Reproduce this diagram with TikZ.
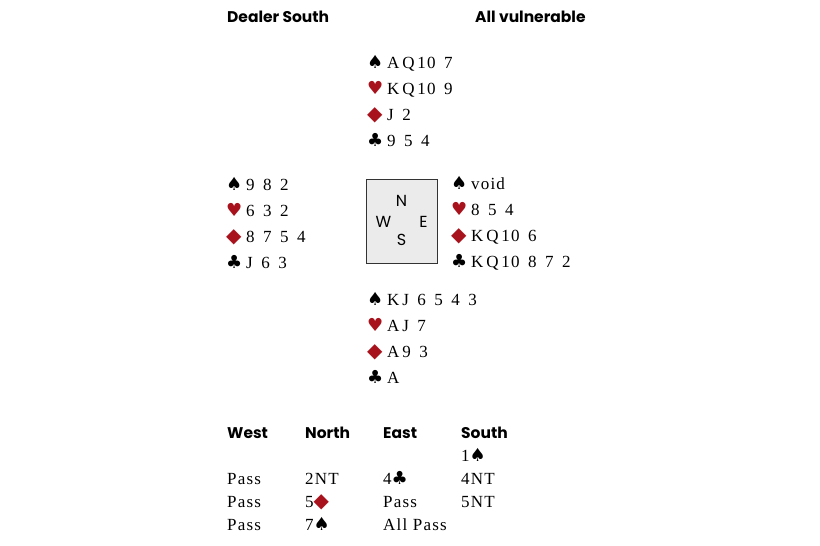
\documentclass[tikz,border=0pt]{standalone}
\usepackage{fontspec}
\setmainfont{Liberation Serif}[LetterSpace=7]
\newfontfamily\headfont{Poppins}
\newfontfamily\suitfont{DejaVu Sans}
\usetikzlibrary{positioning}
\usetikzlibrary{calc}
\usetikzlibrary{matrix}
\definecolor{suitred}{HTML}{A8121C}
\definecolor{tablegray}{HTML}{EBEBEB}
\newcommand\spd{{\suitfont\fontsize{18}{18}\selectfont ♠}}
\newcommand\hrt{{\suitfont\fontsize{18}{18}\selectfont\color{suitred}♥}}
\newcommand\dia{{\suitfont\fontsize{20}{20}\selectfont\color{suitred}◆}}
\newcommand\clb{{\suitfont\fontsize{18}{18}\selectfont ♣}}
\newcommand\suitcol[1]{\makebox[20pt][l]{#1}}
\newcommand\handfont{\fontsize{17}{20}\selectfont\spaceskip 8.5pt\relax}
\newcommand\headingfont{\headfont\bfseries\fontsize{15.5}{18}\selectfont}
\tikzset{
    heading/.style={anchor=base west,inner sep=0pt,font=\headingfont},
    handrow/.style={anchor=north west,inner sep=0pt,text height=12pt,text depth=4pt,font=\handfont},
    seat/.style={inner sep=0pt,font=\headfont\fontsize{16}{18}\selectfont},
    bid/.style={inner sep=0pt,text width=78pt,align=left,text height=12pt,text depth=4pt,font=\fontsize{17}{20}\selectfont},
    bidhead/.style={font=\headingfont},
}
% #1 name, #2 x, #3 top, #4-#7 spades to clubs
\newcommand*\hand[7]{
    \node[handrow] (#1-s) at (#2,#3) {\suitcol{\spd}#4};
    \node[handrow,below=9.5pt of #1-s.south west,anchor=north west] (#1-h) {\suitcol{\hrt}#5};
    \node[handrow,below=9.5pt of #1-h.south west,anchor=north west] (#1-d) {\suitcol{\dia}#6};
    \node[handrow,below=9.5pt of #1-d.south west,anchor=north west] (#1-c) {\suitcol{\clb}#7};
}
\begin{document}
\begin{tikzpicture}[x=1pt,y=-1pt]
    \useasboundingbox (0,0) rectangle (820,546);
    \node[heading] (dealer) at (227,23) {Dealer South};
    \node[heading] (vul) at (475,23) {All vulnerable};
    \hand{north}{367}{56.5}{A\,Q\,10 7}{K\,Q\,10 9}{J 2}{9 5 4}
    \hand{west}{226}{178.5}{9 8 2}{6 3 2}{8 7 5 4}{J 6 3}
    \hand{east}{451}{177.5}{void}{8 5 4}{K\,Q\,10 6}{K\,Q\,10 8 7 2}
    \hand{south}{367}{293.5}{K\,J 6 5 4 3}{A\,J 7}{A\,9 3}{A}
    \node[draw=black!80,fill=tablegray,line width=1pt,minimum width=71pt,minimum height=84pt,inner sep=0pt] (table) at (401.5,221) {};
    \node[seat] (seat-n) at ($(table.center)+(0,-20)$) {N};
    \node[seat] (seat-w) at ($(table.center)+(-18,1)$) {W};
    \node[seat] (seat-e) at ($(table.center)+(22,1)$) {E};
    \node[seat] (seat-s) at ($(table.center)+(0,19)$) {S};
    \matrix[matrix of nodes,nodes in empty cells,anchor=north west,inner sep=0pt,row sep=7pt,column sep=0pt,
        nodes={bid},row 1/.style={nodes={bidhead}}] (auction) at (227,426) {
        West & North & East & South \\
             &       &      & 1\spd \\
        Pass & 2NT   & 4\clb & 4NT \\
        Pass & 5\dia & Pass & 5NT \\
        Pass & 7\spd & All Pass & \\
    };
\end{tikzpicture}
\end{document}
